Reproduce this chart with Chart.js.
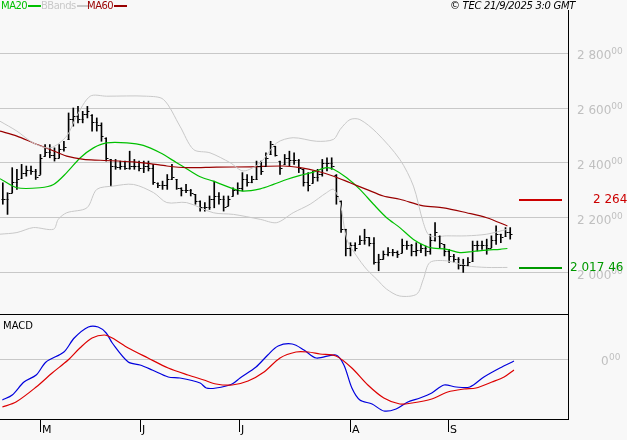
<!DOCTYPE html>
<html>
<head>
<meta charset="utf-8">
<script src="https://cdn.jsdelivr.net/npm/chart.js@4.4.1/dist/chart.umd.min.js"></script>
<style>
  body { margin:0; background:#f8f8f8; }
  #wrap { position:relative; width:627px; height:440px; background:#f8f8f8; font-family:"DejaVu Sans", sans-serif; }
  canvas { position:absolute; left:0; }
  #price { top:0; }
  #macd { top:315px; }
  .lg { position:absolute; top:0; font-size:10px; letter-spacing:-0.5px; }
  .lg span.l { display:inline-block; width:13px; height:2px; vertical-align:middle; margin-left:1px; }
  #copy { position:absolute; top:0; left:450px; font-size:10px; font-style:italic; letter-spacing:-0.3px; }
</style>
</head>
<body>
<div id="wrap">
  <canvas id="price" width="627" height="315"></canvas>
  <canvas id="macd" width="627" height="125"></canvas>
  <div class="lg" style="left:1px;color:#00c000">MA20<span class="l" style="background:#00c000"></span></div>
  <div class="lg" style="left:41px;color:#c8c8c8">BBands<span class="l" style="background:#c8c8c8"></span></div>
  <div class="lg" style="left:87px;color:#990000">MA60<span class="l" style="background:#990000"></span></div>
  <div id="copy">© TEC 21/9/2025 3:0 GMT</div>
</div>
<script>
// daily bars (index 0..108)
var highs = [2328,2292,2383,2377,2395,2389,2389,2377,2431,2467,2467,2455,2467,2479,2582,2600,2606,2588,2606,2576,
  2564,2546,2492,2413,2413,2407,2407,2443,2413,2407,2407,2407,2395,2328,2334,2358,2395,2340,2310,2322,
  2304,2286,2262,2256,2280,2334,2292,2280,2280,2310,2328,2365,2358,2352,2407,2407,2437,2479,2461,2407,
  2431,2443,2437,2413,2377,2365,2371,2377,2413,2419,2419,2358,2262,2159,2110,2110,2135,2159,2129,2129,
  2068,2080,2092,2086,2080,2123,2116,2104,2110,2104,2098,2141,2183,2135,2104,2086,2068,2056,2050,2056,
  2116,2116,2116,2123,2135,2171,2141,2165,2165];
var lows = [2250,2213,2292,2304,2346,2352,2358,2340,2358,2425,2419,2407,2419,2443,2486,2534,2546,2546,2564,2516,
  2516,2479,2407,2316,2377,2377,2377,2377,2377,2371,2365,2371,2322,2310,2304,2304,2340,2304,2280,2292,
  2280,2250,2225,2225,2231,2237,2250,2225,2244,2280,2286,2298,2316,2328,2340,2358,2389,2431,2425,2358,
  2395,2389,2395,2365,2316,2298,2328,2334,2352,2371,2377,2250,2147,2062,2062,2080,2104,2104,2098,2032,
  2008,2050,2062,2062,2056,2074,2086,2062,2062,2074,2062,2068,2116,2092,2062,2038,2038,2014,2002,2026,
  2044,2080,2086,2068,2092,2104,2110,2135,2123];
var closes = [2270,2290,2330,2340,2365,2375,2370,2350,2420,2440,2430,2420,2450,2460,2560,2570,2560,2580,2590,2550,
  2540,2500,2420,2390,2385,2390,2380,2390,2390,2380,2390,2380,2330,2320,2320,2340,2350,2310,2300,2300,
  2290,2260,2240,2240,2270,2280,2270,2240,2270,2300,2310,2340,2330,2340,2390,2370,2420,2470,2430,2380,
  2420,2410,2410,2380,2330,2320,2350,2360,2400,2400,2390,2280,2160,2090,2100,2090,2120,2130,2110,2040,
  2050,2070,2075,2075,2070,2100,2100,2080,2085,2090,2080,2120,2150,2110,2080,2060,2050,2030,2030,2040,
  2100,2100,2100,2090,2120,2140,2130,2150,2140];

// indicator readings (bar index, value)
var ma20X = [-0.6,3.0,7.9,10.8,13.6,16.5,19.3,22.1,26.4,29.9,33.5,37.0,39.9,42.0,44.8,49.1,51.2,54.8,57.6,60.4,63.3,66.1,68.9,70.4,73.2,76.0,78.9,81.7,84.5,87.4,90.2,91.6,94.5,97.3,100.1,103.0,105.8,107.4];
var ma20Y = [2343,2310,2310,2322,2365,2419,2455,2473,2473,2464,2437,2401,2371,2350,2334,2306,2298,2306,2322,2340,2355,2367,2383,2377,2346,2304,2250,2201,2165,2122,2096,2090,2086,2074,2078,2083,2086,2089];
var ma60X = [-0.6,3.0,6.5,10.1,13.6,17.2,20.7,27.8,31.3,34.9,39.1,45.5,52.6,59.7,63.3,66.8,70.4,73.9,77.4,81.0,84.5,89.5,93.8,98.7,103.0,107.4];
var ma60Y = [2516,2498,2473,2449,2425,2413,2410,2404,2398,2389,2383,2385,2386,2389,2383,2371,2352,2328,2304,2280,2268,2244,2237,2219,2201,2171];
var bbUpX = [-0.6,3.0,6.5,10.1,13.6,15.7,18.6,22.1,30.6,34.2,37.7,40.6,44.1,48.4,51.2,54.8,58.3,61.8,66.8,70.4,71.8,73.9,76.0,79.6,84.5,87.4,89.5,90.9,94.5,98.7,103.0,107.4];
var bbUpY = [2552,2516,2473,2455,2498,2570,2643,2643,2643,2631,2534,2449,2437,2401,2371,2401,2473,2492,2479,2486,2522,2558,2558,2510,2413,2316,2183,2135,2135,2135,2141,2159];
var bbLoX = [-0.6,3.0,6.5,10.8,11.8,13.6,17.9,20.0,23.5,27.8,32.1,34.9,39.1,44.8,49.1,54.8,58.3,61.8,65.4,68.9,70.4,71.8,73.2,75.3,77.4,79.6,81.7,84.5,88.1,89.5,90.9,94.5,98.7,103.0,107.4];
var bbLoY = [2141,2147,2165,2159,2195,2219,2237,2304,2316,2322,2292,2256,2256,2219,2213,2195,2183,2219,2250,2292,2304,2256,2123,2062,2014,1977,1941,1916,1923,1977,2038,2044,2026,2020,2020];

var macdX = [-0.1,2.0,4.5,7.1,9.2,13.0,15.2,18.2,20.3,22.0,23.3,26.7,29.2,31.8,35.2,37.7,42.0,43.3,45.4,48.8,50.5,53.9,56.4,58.6,61.6,64.1,66.7,70.9,72.6,74.3,76.0,78.6,81.1,83.7,86.2,88.8,91.3,93.9,96.5,99.4,102.4,105.8,108.8];
var macdY = [-41,-36,-23,-16,-3,7,21,32,32,26,16,-3,-6,-11,-18,-19,-24,-29,-29,-25,-19,-8,4,13,15,9,1,4,-6,-29,-41,-45,-52,-50,-43,-39,-34,-26,-28,-28,-18,-9,-2];
var sigX = [-0.1,2.8,7.1,10.5,13.9,16.4,19.0,21.6,23.3,26.7,30.9,35.2,39.4,42.8,45.4,48.8,52.2,55.6,59.0,62.4,65.0,67.5,70.9,74.3,77.7,81.1,84.5,87.1,91.3,94.7,98.2,100.7,104.1,106.7,108.8];
var sigY = [-48,-43,-28,-14,-1,11,21,24,21,11,1,-9,-16,-21,-25,-26,-22,-13,1,7,7,5,3,-9,-26,-39,-45,-44,-40,-33,-30,-29,-23,-18,-11];

var monthLabels = ['M','J','J','A','S'];
var monthIdx = [7.9,29.2,50.3,73.9,94.7];
var priceTicks = [2000,2200,2400,2600,2800];
var lastMA60 = 2264.8, lastLabelMA60 = '2 264 8';
var lastBB = 2017.46, lastLabelBB = '2 017 46';

function pts(xs, ys) { return xs.map(function(x, i){ return {x:x, y:ys[i]}; }); }
function fmt(v) { var s = String(v); return s.slice(0, s.length-3) + ' ' + s.slice(-3); }

var X_MIN = -0.6, X_MAX = 120.3;
var AXIS_W = 59;

var pricePlugin = {
  id:'pricePlugin',
  afterDraw:function(chart){
    var c = chart.ctx, y = chart.scales.y, a = chart.chartArea;
    c.save();
    // OHLC bars
    c.strokeStyle = '#000'; c.lineWidth = 1;
    for (var i = 0; i < closes.length; i++) {
      var px = Math.round(chart.scales.x.getPixelForValue(i)) + 0.5;
      var open = i > 0 ? closes[i-1] : closes[i];
      var oy = Math.round(y.getPixelForValue(Math.min(highs[i], Math.max(lows[i], open)))) + 0.5;
      var cy = Math.round(y.getPixelForValue(closes[i])) + 0.5;
      c.beginPath(); c.moveTo(px-2, oy); c.lineTo(px, oy); c.moveTo(px, cy); c.lineTo(px+2, cy); c.stroke();
    }
    // tick labels with superscript decimals
    c.fillStyle = '#c0c0c0'; c.textBaseline = 'middle';
    priceTicks.forEach(function(v){
      var py = y.getPixelForValue(v) + 3;
      c.font = '12px "DejaVu Sans"';
      var t = fmt(v); c.fillText(t, 577, py);
      var w = c.measureText(t).width;
      c.font = '9px "DejaVu Sans"'; c.fillText('00', 577 + w, py - 4);
    });
    // last value markers
    var r = Math.round(y.getPixelForValue(lastMA60));
    c.fillStyle = '#cc0000'; c.fillRect(519, r-1, 43, 2);
    c.font = '12px "DejaVu Sans"'; c.fillText(lastLabelMA60, 593, r);
    var g = Math.round(y.getPixelForValue(lastBB));
    c.fillStyle = '#009900'; c.fillRect(519, g-1, 43, 2);
    c.fillText(lastLabelBB, 570, g);
    // frame
    c.fillStyle = '#000';
    c.fillRect(a.right, 10, 1, a.bottom - 10);
    c.fillRect(0, a.bottom - 1, a.right + 1, 2);
    c.restore();
  }
};

new Chart(document.getElementById('price'), {
  type:'bar',
  data:{ datasets:[
    { type:'line', data:pts(bbUpX, bbUpY), borderColor:'#c8c8c8', borderWidth:1, pointRadius:0, tension:0.3 },
    { type:'line', data:pts(bbLoX, bbLoY), borderColor:'#c8c8c8', borderWidth:1, pointRadius:0, tension:0.3 },
    { type:'line', data:pts(ma60X, ma60Y), borderColor:'#990000', borderWidth:1.2, pointRadius:0, tension:0.3 },
    { type:'line', data:pts(ma20X, ma20Y), borderColor:'#00c000', borderWidth:1.2, pointRadius:0, tension:0.3 },
    { type:'bar', data:highs.map(function(h, i){ return {x:i, y:[lows[i], h]}; }), backgroundColor:'#000', barThickness:1, grouped:false }
  ]},
  options:{
    responsive:false, animation:false, events:[],
    layout:{ padding:0 },
    plugins:{ legend:{display:false}, tooltip:{enabled:false} },
    scales:{
      x:{ type:'linear', offset:false, min:X_MIN, max:X_MAX, display:false },
      y:{ position:'right', min:1847, max:2993,
          afterBuildTicks:function(s){ s.ticks = priceTicks.map(function(v){ return {value:v}; }); },
          afterFit:function(s){ s.width = AXIS_W; },
          ticks:{ display:false }, border:{ display:false },
          grid:{ color:'#c8c8c8', drawTicks:false } }
    }
  },
  plugins:[pricePlugin]
});

var macdPlugin = {
  id:'macdPlugin',
  afterDraw:function(chart){
    var c = chart.ctx, a = chart.chartArea, x = chart.scales.x;
    c.save();
    c.fillStyle = '#000';
    c.font = '10px "DejaVu Sans"'; c.textBaseline = 'top';
    c.fillText('MACD', 3, a.top + 6);
    c.fillRect(a.right, a.top, 1, a.bottom - a.top);
    c.fillRect(0, a.bottom, a.right + 1, 1);
    c.font = '11px "DejaVu Sans"';
    monthIdx.forEach(function(m, i){
      var px = Math.round(x.getPixelForValue(m));
      c.fillRect(px, a.bottom, 1, 13);
      c.fillText(monthLabels[i], px + 2, a.bottom + 6);
    });
    var zy = chart.scales.y.getPixelForValue(0);
    c.fillStyle = '#c0c0c0'; c.textBaseline = 'middle';
    c.font = '12px "DejaVu Sans"'; c.fillText('0', 601, zy + 3);
    c.font = '9px "DejaVu Sans"'; c.fillText('00', 609, zy - 1);
    c.restore();
  }
};

new Chart(document.getElementById('macd'), {
  type:'line',
  data:{ datasets:[
    { data:pts(sigX, sigY), borderColor:'#dd0000', borderWidth:1.2, pointRadius:0, tension:0.3 },
    { data:pts(macdX, macdY), borderColor:'#0000dd', borderWidth:1.2, pointRadius:0, tension:0.3 }
  ]},
  options:{
    responsive:false, animation:false, events:[],
    layout:{ padding:{ bottom:21 } },
    plugins:{ legend:{display:false}, tooltip:{enabled:false} },
    scales:{
      x:{ type:'linear', min:X_MIN, max:X_MAX, display:false },
      y:{ position:'right', min:-60, max:44,
          afterBuildTicks:function(s){ s.ticks = [{value:0}]; },
          afterFit:function(s){ s.width = AXIS_W; },
          ticks:{ display:false }, border:{ display:false },
          grid:{ color:'#c8c8c8', drawTicks:false } }
    }
  },
  plugins:[macdPlugin]
});
</script>
</body>
</html>
